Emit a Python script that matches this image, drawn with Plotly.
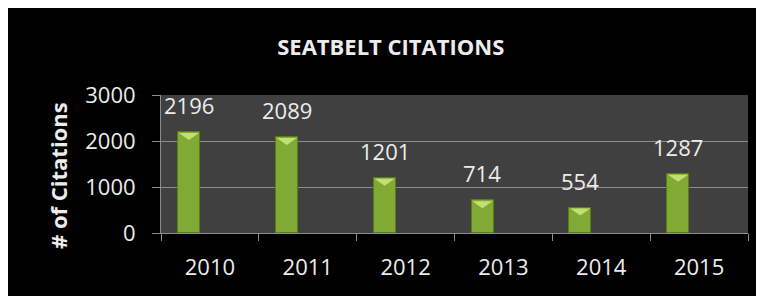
import plotly.graph_objects as go

years = ["2010", "2011", "2012", "2013", "2014", "2015"]
citations = [2196, 2089, 1201, 714, 554, 1287]
y_ticks = [0, 1000, 2000, 3000]

FONT = "Open Sans"
TXT = "#ececec"

fig = go.Figure()
fig.add_trace(go.Bar(
    x=years, y=citations,
    width=0.225, offset=-0.325,
    marker=dict(color="#80aa33", line=dict(color="#5a7d1c", width=1)),
    hoverinfo="x+y",
))

# value labels above bars (x given as category index)
for i, v in enumerate(citations):
    fig.add_annotation(x=i, y=v, text=str(v), showarrow=False,
                       xshift=-21, yshift=27, yanchor="middle",
                       font=dict(family=FONT, size=22, color=TXT))
    # light bevel triangle at bar top
    fig.add_shape(type="path", xref="x", yref="y",
                  xsizemode="pixel", ysizemode="pixel",
                  xanchor=i, yanchor=v,
                  path="M -31,-1 L -11,-1 L -21,-8 Z",
                  fillcolor="#c3df74", line=dict(width=0), layer="above")

# y-axis title (placed slightly below plot centre, as in the original)
fig.add_annotation(text="<b># of Citations</b>", xref="paper", yref="paper",
                   x=-0.1755, y=0.42, textangle=-90, showarrow=False,
                   xanchor="center", yanchor="middle",
                   font=dict(family=FONT, size=22, color=TXT))

fig.update_layout(
    width=764, height=296,
    margin=dict(l=153, r=24, t=87, b=71, autoexpand=False),
    paper_bgcolor="black",
    plot_bgcolor="#404040",
    showlegend=False,
    bargap=0,
    title=dict(text="<b>SEATBELT CITATIONS</b>", xref="container", x=0.501,
               y=1 - 39 / 296, yanchor="middle", xanchor="center",
               font=dict(family=FONT, size=22, color=TXT)),
    font=dict(family=FONT, color=TXT),
)
fig.update_xaxes(
    type="category", range=[-0.5, 5.5], tickson="boundaries", ticks="outside",
    ticklen=7, tickangle=0,
    tickcolor="#8c8c8c", showline=True, linecolor="#8c8c8c", linewidth=1,
    showgrid=False, tickfont=dict(family=FONT, size=22, color=TXT),
    ticklabelstandoff=15, automargin=False,
)
fig.update_yaxes(
    range=[0, 3000], tickvals=y_ticks, ticks="outside", ticklen=8,
    tickcolor="#8c8c8c", showline=True, linecolor="#8c8c8c", linewidth=1,
    showgrid=True, gridcolor="#8c8c8c", gridwidth=1, zeroline=False,
    tickfont=dict(family=FONT, size=22, color=TXT), ticklabelstandoff=12,
    automargin=False,
)

fig.write_html("out.html")
